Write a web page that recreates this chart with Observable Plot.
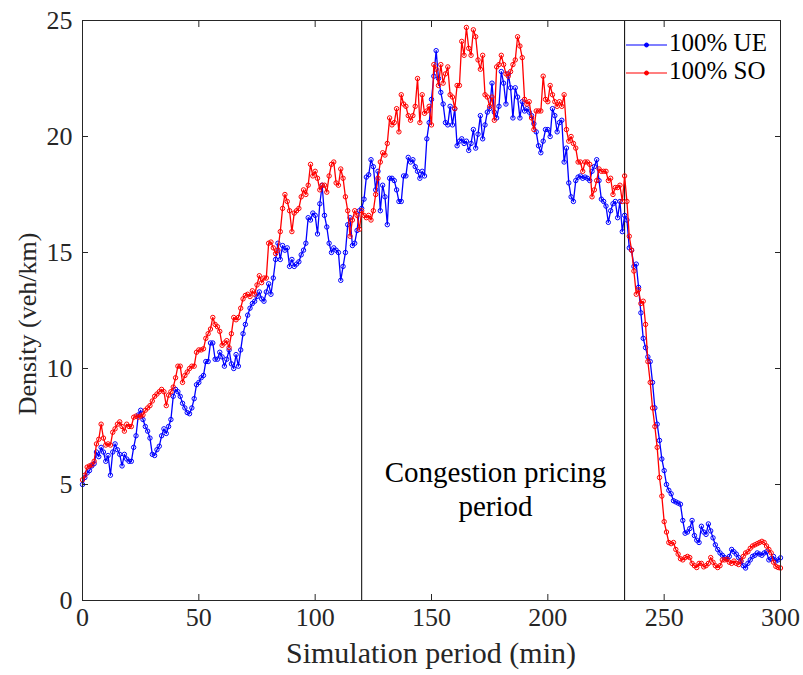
<!DOCTYPE html>
<html><head><meta charset="utf-8">
<script src="https://cdn.jsdelivr.net/npm/d3@7"></script>
<script src="https://cdn.jsdelivr.net/npm/@observablehq/plot@0.6"></script>
<style>
body{margin:0;background:#fff;}
#chart{position:relative;width:803px;height:675px;}
</style>
</head><body><div id="chart"></div>
<script>
// Density (veh/km) per simulation minute, 0..300
const ueDensity = [
5.0,5.3,5.5,5.6,5.8,5.9,6.4,6.2,6.6,6.4,
6.0,6.25,5.4,6.4,6.75,6.5,6.3,5.8,6.3,6.1,
6.0,6.0,6.6,7.1,8.0,8.2,7.8,7.5,7.3,7.0,
6.3,6.25,6.5,6.65,7.1,7.4,7.2,7.5,7.8,8.8,
9.1,9.0,8.8,8.5,8.3,8.1,8.05,8.3,8.7,9.3,
9.4,9.6,9.7,10.3,10.3,11.1,11.1,10.4,10.4,10.7,
10.5,10.1,10.4,10.8,10.2,10.0,10.6,10.1,10.8,11.5,
11.9,12.3,12.6,12.8,12.9,13.1,13.3,13.0,12.9,13.3,
13.65,13.2,13.9,14.7,15.4,14.7,15.3,15.1,15.2,14.4,
14.7,14.4,14.5,14.6,14.9,15.1,15.4,16.5,16.4,16.7,
16.6,15.8,17.1,17.9,16.6,16.1,15.4,15.0,15.2,15.1,
15.0,13.8,14.4,15.0,16.2,16.5,15.3,15.4,15.95,16.8,
16.9,17.3,18.25,18.35,19.0,18.7,17.7,18.5,16.8,17.9,
17.4,16.2,18.2,18.2,18.1,17.7,17.2,17.2,18.3,18.3,
19.1,18.9,19.0,18.7,18.5,18.2,18.5,18.3,19.9,20.6,
21.6,22.6,23.7,22.5,21.9,21.4,20.6,20.5,21.3,20.5,
21.2,19.6,19.8,19.9,19.7,19.8,19.4,19.7,20.3,19.5,
20.1,20.9,19.9,20.5,21.05,21.2,22.3,21.05,20.8,21.3,
22.8,22.3,21.4,22.7,22.1,20.8,22.1,21.7,20.8,21.5,
21.1,21.2,21.05,20.9,20.55,20.2,19.6,19.3,19.8,20.3,
20.3,20.0,21.2,20.9,20.2,20.6,20.7,18.9,19.5,18.0,
17.4,17.2,18.1,18.25,18.3,18.2,18.25,18.2,18.1,18.5,
18.7,19.0,18.1,17.3,17.2,17.0,16.3,16.8,17.1,17.2,
16.5,17.2,15.9,16.6,16.4,15.2,15.1,14.4,14.5,13.5,
12.4,11.3,10.9,10.5,10.3,9.4,8.3,7.6,6.9,6.1,
5.6,5.0,4.75,4.6,4.3,4.25,4.2,4.15,3.45,2.9,
2.95,3.1,3.45,2.8,2.6,2.5,3.2,2.95,2.85,3.3,
3.0,2.7,2.4,2.2,2.05,1.95,1.85,1.8,1.9,2.2,
2.1,2.0,1.85,1.7,1.5,1.4,1.6,1.75,1.9,1.95,
2.05,2.0,1.95,2.05,2.1,1.75,1.8,1.9,1.7,1.75,1.84
];
const soDensity = [
5.2,5.4,5.75,5.8,5.85,6.0,6.75,6.95,7.6,7.0,
6.7,6.75,6.7,7.25,7.4,7.6,7.7,7.5,7.3,7.6,
7.5,7.5,7.9,7.95,7.9,7.95,8.0,8.2,8.3,8.4,
8.6,8.8,8.9,9.0,9.1,9.0,8.4,8.85,9.0,9.2,
9.6,10.1,10.1,9.4,9.7,9.85,10.0,10.1,10.1,10.7,
10.8,10.8,10.85,11.3,11.5,11.7,12.2,11.9,11.8,11.6,
11.0,11.1,11.2,10.9,11.5,12.2,12.1,12.2,12.6,13.0,
13.15,13.2,13.1,13.35,13.2,13.6,14.0,13.7,13.9,13.9,
15.4,15.45,15.2,14.95,15.1,15.9,16.9,17.5,17.2,16.8,
15.9,16.7,16.8,16.9,17.4,17.7,17.5,17.9,18.8,18.3,
18.5,18.2,17.7,17.9,17.9,17.6,18.3,18.8,18.9,18.0,
17.9,18.6,18.2,17.4,16.8,15.7,16.4,16.8,16.6,16.0,
16.8,16.6,16.5,16.6,16.4,16.8,17.5,18.2,18.9,19.3,
19.2,19.7,20.8,20.5,20.6,21.2,20.2,21.8,21.4,21.3,
20.9,20.7,20.9,21.3,22.5,20.6,21.8,21.0,21.1,21.3,
20.5,23.1,22.9,22.2,23.1,22.3,22.7,23.0,21.8,21.7,
21.2,22.2,22.2,24.1,23.5,24.7,23.8,23.5,24.6,24.3,
23.3,22.9,23.5,21.8,21.7,21.3,21.7,20.7,23.0,23.1,
23.5,23.1,22.7,22.6,22.8,23.1,23.3,24.3,23.9,23.4,
21.6,21.4,21.5,20.8,20.3,21.1,21.1,21.1,22.6,21.6,
21.5,22.2,21.8,21.5,21.3,21.5,21.3,21.8,20.3,19.8,
20.0,19.7,19.5,18.9,18.9,18.5,18.9,18.9,18.8,17.4,
17.7,18.1,18.6,18.5,18.5,18.5,18.1,18.2,17.5,17.8,
17.8,17.9,17.2,18.3,17.2,15.7,15.1,14.2,13.2,13.4,
12.8,12.9,11.9,10.3,9.4,8.3,7.5,6.6,5.3,4.5,
3.4,2.95,2.5,2.45,2.5,2.2,2.0,1.8,1.75,1.85,
1.9,1.85,1.6,1.5,1.42,1.6,1.6,1.45,1.5,1.6,
1.85,1.65,1.5,1.42,1.5,1.75,1.75,1.78,1.65,1.6,
1.7,1.6,1.55,1.7,1.9,2.05,2.1,2.25,2.35,2.4,
2.45,2.5,2.55,2.5,2.35,2.2,2.05,1.65,1.47,1.42,1.4
];
const seriesNames = ["100% UE", "100% SO"];
const seriesColors = ["#0000ff", "#ff0000"];
const pricingBounds = [120, 233];
const pricingLabel = "Congestion pricing\nperiod";
const xTicks = [0, 50, 100, 150, 200, 250, 300];
const yTicks = [0, 5, 10, 15, 20, 25];
const xLabel = "Simulation period (min)";
const yLabel = "Density (veh/km)";

const seriesValues = [ueDensity, soDensity];
const rows = seriesValues.map((vals, s) => vals.map((v, i) => ({t: i, v, s: seriesNames[s]})));

const W = 803, H = 675;
const M = {top: 20, right: 23, bottom: 75, left: 82};
const FONT = "'Liberation Serif', 'Times New Roman', serif";
const AX = "#262626";

const seriesMarks = rows.flatMap((data, s) => [
  Plot.line(data, {x: "t", y: "v", stroke: seriesColors[s], strokeWidth: 1.3}),
  Plot.dot(data, {x: "t", y: "v", r: 2.2, stroke: seriesColors[s], fill: "none", strokeWidth: 1})
]);

const plot = Plot.plot({
  width: W, height: H,
  marginTop: M.top, marginRight: M.right, marginBottom: M.bottom, marginLeft: M.left,
  style: {fontFamily: FONT, fontSize: "26px", color: AX, background: "#fff"},
  x: {domain: [0, 300], label: null},
  y: {domain: [0, 25], label: null},
  marks: [
    Plot.ruleX(pricingBounds, {stroke: "#000", strokeWidth: 1}),
    ...seriesMarks,
    Plot.text([pricingLabel], {x: d3.mean(pricingBounds) + 1, y: 4.85, text: d => d, fontSize: 29, fill: "#000", lineHeight: 1.17, textAnchor: "middle"}),
    // inward ticks on all four sides
    Plot.axisX(xTicks, {anchor: "bottom", tickSize: 6, dy: -6, fill: "none", label: null, stroke: AX}),
    Plot.axisX(xTicks, {anchor: "top", tickSize: 6, dy: 6, fill: "none", label: null, stroke: AX}),
    Plot.axisY(yTicks, {anchor: "left", tickSize: 6, dx: 6, fill: "none", label: null, stroke: AX}),
    Plot.axisY(yTicks, {anchor: "right", tickSize: 6, dx: -6, fill: "none", label: null, stroke: AX}),
    // tick labels
    Plot.axisX(xTicks, {anchor: "bottom", tickSize: 0, tickPadding: 7, label: null, fill: AX}),
    Plot.axisY(yTicks, {anchor: "left", tickSize: 0, tickPadding: 10, label: null, fill: AX}),
    Plot.frame({stroke: AX, strokeWidth: 1})
  ]
});
document.getElementById("chart").appendChild(plot);

// axis titles and legend overlay
const svg = d3.select(plot);
svg.append("text")
  .attr("x", (M.left + W - M.right) / 2).attr("y", H - 12)
  .attr("text-anchor", "middle").attr("font-family", FONT).attr("font-size", 30).attr("fill", AX)
  .text(xLabel);
svg.append("text")
  .attr("transform", `translate(30,${(M.top + H - M.bottom) / 2 + 14}) rotate(-90)`)
  .attr("text-anchor", "middle").attr("dominant-baseline", "middle")
  .attr("font-family", FONT).attr("font-size", 26).attr("fill", AX)
  .text(yLabel);

const lg = svg.append("g");
seriesNames.forEach((name, i) => {
  const y = 45 + i * 28;
  const x0 = 626;
  lg.append("line").attr("x1", x0).attr("x2", x0 + 41).attr("y1", y).attr("y2", y)
    .attr("stroke", seriesColors[i]).attr("stroke-width", 1.2);
  lg.append("circle").attr("cx", x0 + 20.5).attr("cy", y).attr("r", 2)
    .attr("stroke", seriesColors[i]).attr("fill", seriesColors[i]).attr("stroke-width", 1);
  lg.append("text").attr("x", x0 + 43).attr("y", y).attr("dominant-baseline", "middle")
    .attr("text-anchor", "start")
    .attr("font-family", FONT).attr("font-size", 25).attr("fill", "#000").text(name);
});
</script>
</body></html>
